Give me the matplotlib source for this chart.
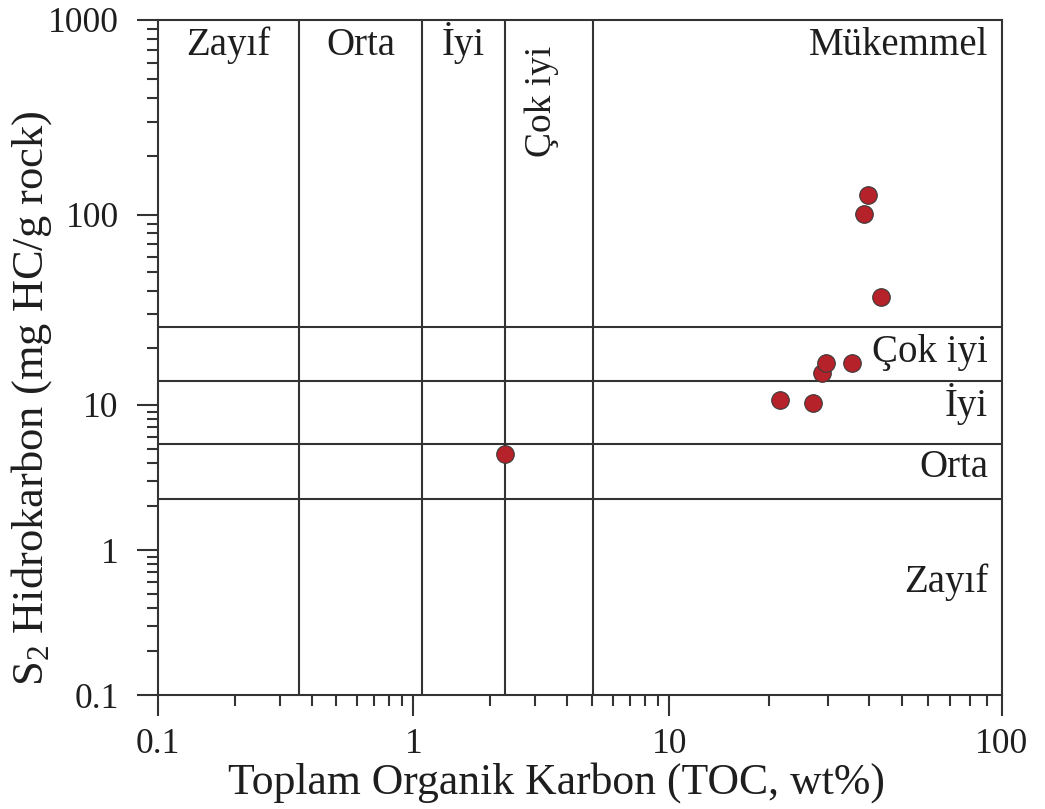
import numpy as np
import matplotlib.pyplot as plt
from matplotlib.ticker import FixedLocator, FixedFormatter, NullFormatter

plt.rcParams['font.family'] = ['Liberation Serif', 'DejaVu Serif']
plt.rcParams['mathtext.default'] = 'regular'

# VERİ
toc = [2.28, 21.5, 27.1, 28.8, 29.6, 35.4, 38.5, 39.6, 43.3]
s2 = [4.59, 10.6, 10.2, 14.7, 16.6, 16.6, 101, 126.7, 37.0]

# sınıf sınırları
toc_sinir = [0.357, 1.08, 2.28, 5.04]
s2_sinir = [2.25, 5.38, 13.4, 25.7]
sinif = ['Zayıf', 'Orta', 'İyi', 'Çok iyi', 'Mükemmel']

x_ticks = [0.1, 1, 10, 100]
x_labels = ['0.1', '1', '10', '100']
y_ticks = [0.1, 1, 10, 100, 1000]
y_labels = ['0.1', '1', '10', '100', '1000']

# orijinal çizimde dekadlar eşit aralıklı değil (dekad -> piksel)
x_dec = [-1, 0, 1, 2]
x_pos = [0, 255.6, 511.6, 844]
y_dec = [-1, 0, 1, 2, 3]
y_pos = [0, 145, 290, 480, 675]


def olcek(dec, pos):
    def ileri(v):
        with np.errstate(divide='ignore', invalid='ignore'):
            return np.interp(np.log10(v), dec, pos)

    def geri(p):
        return 10 ** np.interp(p, pos, dec)
    return ileri, geri


fx, gx = olcek(x_dec, x_pos)
fy, gy = olcek(y_dec, y_pos)

fig = plt.figure(figsize=(10.45, 8.09), dpi=100)
ax = fig.add_axes([0.1509, 0.1409, 0.8077, 0.8344])

ax.set_xscale('function', functions=(fx, gx))
ax.set_yscale('function', functions=(fy, gy))
ax.set_xlim(0.1, 100)
ax.set_ylim(0.1, 1000)

minor = lambda ust: [m * 10.0 ** e for e in range(-1, ust) for m in range(2, 10)]
ax.xaxis.set_major_locator(FixedLocator(x_ticks))
ax.xaxis.set_major_formatter(FixedFormatter(x_labels))
ax.xaxis.set_minor_locator(FixedLocator(minor(2)))
ax.xaxis.set_minor_formatter(NullFormatter())
ax.yaxis.set_major_locator(FixedLocator(y_ticks))
ax.yaxis.set_major_formatter(FixedFormatter(y_labels))
ax.yaxis.set_minor_locator(FixedLocator(minor(3)))
ax.yaxis.set_minor_formatter(NullFormatter())

koyu = '#333333'
yazi = '#1e1e1e'
for s in ax.spines.values():
    s.set_color(koyu)
    s.set_linewidth(1.5)
ax.tick_params(which='both', direction='out', color=koyu, width=1.5,
               labelsize=25.5, labelcolor=yazi)
ax.tick_params(which='major', length=15)
ax.tick_params(which='minor', length=8)
ax.tick_params(axis='x', pad=9)
ax.tick_params(axis='y', pad=13)

# sınır çizgileri
for v in toc_sinir:
    ax.axvline(v, color=koyu, lw=1.5, zorder=1)
for v in s2_sinir:
    ax.axhline(v, color=koyu, lw=1.5, zorder=1)

ax.scatter(toc, s2, s=160, c='#b52229', edgecolors='#3a3a3a',
           linewidths=0.8, zorder=3)

# sınıf etiketleri (TOC, üst)
W = x_pos[-1]
kenar = [0.1] + toc_sinir
for i in range(3):
    xm = (fx(kenar[i]) + fx(kenar[i + 1])) / 2 / W
    ax.text(xm, 0.948, sinif[i], transform=ax.transAxes, ha='center',
            va='baseline', fontsize=28, color=yazi)
ax.text(0.455, 0.879, sinif[3], transform=ax.transAxes, ha='center',
        va='center', rotation=90, fontsize=27, color=yazi)
ax.text(0.984, 0.948, sinif[4], transform=ax.transAxes, ha='right',
        va='baseline', fontsize=28, color=yazi)

# sınıf etiketleri (S2, sağ)
for lab, yb in zip(sinif[:4], [0.153, 0.323, 0.413, 0.493]):
    ax.text(0.984, yb, lab, transform=ax.transAxes, ha='right',
            va='baseline', fontsize=28, color=yazi)

ax.set_xlabel('Toplam Organik Karbon (TOC, wt%)', fontsize=31.5, color=yazi)
ax.set_ylabel('S$_2$ Hidrokarbon (mg HC/g rock)', fontsize=32, color=yazi)
ax.xaxis.set_label_coords(0.472, -0.1)
ax.yaxis.set_label_coords(-0.123, 0.44)

fig.savefig('out.png', dpi=100)
